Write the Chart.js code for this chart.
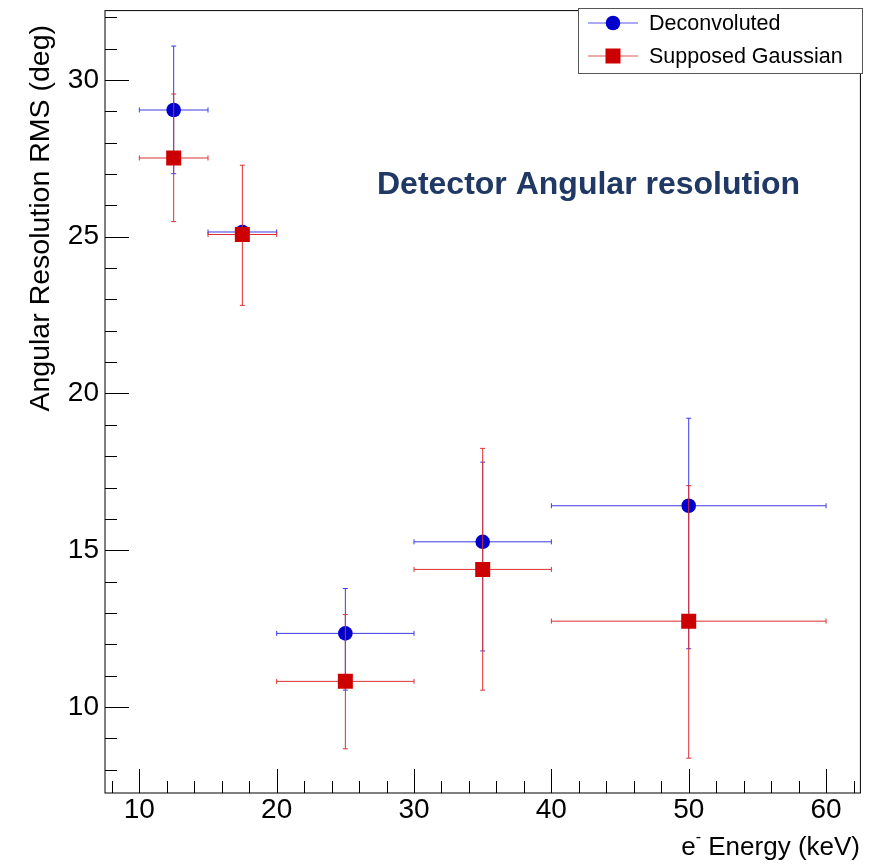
<!DOCTYPE html>
<html>
<head>
<meta charset="utf-8">
<title>Detector Angular resolution</title>
<script src="https://cdn.jsdelivr.net/npm/chart.js@4.4.1/dist/chart.umd.min.js"></script>
<style>
  html, body { margin: 0; padding: 0; background: #ffffff; }
  #wrap { width: 871px; height: 864px; }
</style>
</head>
<body>
<div id="wrap"><canvas id="plot" width="871" height="864"></canvas></div>
<script>
// Bin centres and half-widths of the electron energy bins (keV)
const energy = [12.5, 17.5, 25, 35, 50];
const energyHalfWidth = [2.5, 2.5, 5, 5, 10];

// Angular resolution RMS (deg) with asymmetric errors
const deconvoluted = [29.04, 25.15, 12.35, 15.27, 16.42];
const deconvErrUp = [2.04, 0.21, 1.43, 2.54, 2.79];
const deconvErrDown = [2.03, 0.21, 1.81, 3.48, 4.56];

const gaussian = [27.51, 25.07, 10.82, 14.39, 12.74];
const gaussErrUp = [2.04, 2.21, 2.13, 3.86, 4.32];
const gaussErrDown = [2.03, 2.26, 2.15, 3.85, 4.37];

// Axis ticks
const xTickValues = [10, 20, 30, 40, 50, 60];
const yTickValues = [10, 15, 20, 25, 30];
const xMinorStep = 2;
const yMinorStep = 1;

const seriesNames = ['Deconvoluted', 'Supposed Gaussian'];
const plotTitle = 'Detector Angular resolution';
const yTitle = 'Angular Resolution RMS (deg)';

const BLUE = '#0000cc';
const RED = '#cc0000';
const FONT = "'Liberation Sans', Arial, Helvetica, sans-serif";

Chart.defaults.font.family = FONT;
Chart.defaults.color = '#000';

function toPoints(ys) {
  return energy.map((x, i) => ({ x: x, y: ys[i] }));
}

// Draws the error crosses of one series and the frame, ticks, legend, titles
const rootStyle = {
  id: 'rootStyle',
  beforeDatasetDraw(chart, args) {
    const ds = chart.data.datasets[args.index];
    const xs = chart.scales.x, ys = chart.scales.y;
    const ctx = chart.ctx;
    const cap = 2.5;
    ctx.save();
    ctx.strokeStyle = ds.errColor;
    ctx.lineWidth = 1;
    ds.data.forEach((p, j) => {
      const px = xs.getPixelForValue(p.x);
      const py = ys.getPixelForValue(p.y);
      const yTop = ys.getPixelForValue(p.y + ds.errUp[j]);
      const yBot = ys.getPixelForValue(p.y - ds.errDown[j]);
      const xL = xs.getPixelForValue(p.x - energyHalfWidth[j]);
      const xR = xs.getPixelForValue(p.x + energyHalfWidth[j]);
      ctx.beginPath();
      ctx.moveTo(px, yTop); ctx.lineTo(px, yBot);
      ctx.moveTo(xL, py); ctx.lineTo(xR, py);
      ctx.moveTo(px - cap, yTop); ctx.lineTo(px + cap, yTop);
      ctx.moveTo(px - cap, yBot); ctx.lineTo(px + cap, yBot);
      ctx.moveTo(xL, py - cap); ctx.lineTo(xL, py + cap);
      ctx.moveTo(xR, py - cap); ctx.lineTo(xR, py + cap);
      ctx.stroke();
    });
    ctx.restore();
  },
  afterDatasetsDraw(chart) {
    const ctx = chart.ctx;
    const a = chart.chartArea;
    const xs = chart.scales.x, ys = chart.scales.y;
    ctx.save();

    // frame
    ctx.strokeStyle = '#000';
    ctx.lineWidth = 1;
    ctx.strokeRect(a.left, a.top, a.right - a.left, a.bottom - a.top);

    // ticks pointing into the frame
    const majorLen = 24, minorLen = 12;
    ctx.beginPath();
    for (let v = Math.ceil(xs.min / xMinorStep) * xMinorStep; v <= xs.max + 1e-9; v += xMinorStep) {
      const px = Math.round(xs.getPixelForValue(v)) + 0.5;
      const len = xTickValues.includes(v) ? majorLen : minorLen;
      ctx.moveTo(px, a.bottom); ctx.lineTo(px, a.bottom - len);
    }
    for (let v = Math.ceil(ys.min / yMinorStep) * yMinorStep; v <= ys.max + 1e-9; v += yMinorStep) {
      const py = Math.round(ys.getPixelForValue(v)) + 0.5;
      const len = yTickValues.includes(v) ? majorLen : minorLen;
      ctx.moveTo(a.left, py); ctx.lineTo(a.left + len, py);
    }
    ctx.stroke();

    // plot label
    ctx.fillStyle = '#1f3864';
    ctx.font = 'bold 32px ' + FONT;
    ctx.textAlign = 'left';
    ctx.textBaseline = 'middle';
    ctx.fillText(plotTitle, 377, 185);

    // legend box
    const lx = 578, ly = 8, lw = 284, lh = 65;
    ctx.fillStyle = '#fff';
    ctx.fillRect(lx, ly, lw, lh);
    ctx.strokeStyle = '#555';
    ctx.strokeRect(lx + 0.5, ly + 0.5, lw, lh);
    const rows = [
      { name: seriesNames[0], y: 23, color: BLUE, line: '#5555ee', style: 'circle', r: 7.3 },
      { name: seriesNames[1], y: 56, color: RED, line: '#dd5555', style: 'rect', r: 10.6 }
    ];
    ctx.font = '21.5px ' + FONT;
    rows.forEach(row => {
      ctx.strokeStyle = row.line;
      ctx.lineWidth = 1;
      ctx.beginPath();
      ctx.moveTo(588, row.y); ctx.lineTo(638, row.y);
      ctx.stroke();
      ctx.fillStyle = row.color;
      Chart.helpers.drawPoint(ctx, { pointStyle: row.style, radius: row.r, borderWidth: 0 }, 613, row.y);
      ctx.fillStyle = '#000';
      ctx.textAlign = 'left';
      ctx.textBaseline = 'middle';
      ctx.fillText(row.name, 649, row.y + 1);
    });

    // y axis title, aligned to the top end of the axis
    ctx.save();
    ctx.translate(41, 25);
    ctx.rotate(-Math.PI / 2);
    ctx.fillStyle = '#000';
    ctx.font = '28.5px ' + FONT;
    ctx.textAlign = 'right';
    ctx.textBaseline = 'middle';
    ctx.fillText(yTitle, 0, 0);
    ctx.restore();

    // x axis title with superscript minus, aligned to the right end
    const big = '26px ' + FONT, small = '16px ' + FONT;
    const partE = 'e', partSup = '-', partRest = ' Energy (keV)';
    ctx.font = big;
    const wE = ctx.measureText(partE).width;
    const wRest = ctx.measureText(partRest).width;
    ctx.font = small;
    const wSup = ctx.measureText(partSup).width;
    let x0 = 860 - (wE + wSup + wRest);
    const base = 855;
    ctx.fillStyle = '#000';
    ctx.textAlign = 'left';
    ctx.textBaseline = 'alphabetic';
    ctx.font = big;
    ctx.fillText(partE, x0, base);
    ctx.font = small;
    ctx.fillText(partSup, x0 + wE, base - 13);
    ctx.font = big;
    ctx.fillText(partRest, x0 + wE + wSup, base);

    ctx.restore();
  }
};

function fixScaleBox(size, horizontal) {
  return s => {
    if (horizontal) { s.height = size; } else { s.width = size; }
    s.paddingTop = 0; s.paddingBottom = 0;
    s.paddingLeft = 0; s.paddingRight = 0;
  };
}

new Chart(document.getElementById('plot'), {
  type: 'scatter',
  data: {
    datasets: [
      {
        label: seriesNames[0],
        data: toPoints(deconvoluted),
        errUp: deconvErrUp,
        errDown: deconvErrDown,
        errColor: '#3b3be6',
        pointStyle: 'circle',
        pointRadius: 7.3,
        pointHoverRadius: 7.3,
        pointBorderWidth: 0,
        backgroundColor: BLUE,
        borderColor: BLUE,
        order: 1
      },
      {
        label: seriesNames[1],
        data: toPoints(gaussian),
        errUp: gaussErrUp,
        errDown: gaussErrDown,
        errColor: '#dd3030',
        pointStyle: 'rect',
        pointRadius: 10.6,
        pointHoverRadius: 10.6,
        pointBorderWidth: 0,
        backgroundColor: RED,
        borderColor: RED,
        order: 0
      }
    ]
  },
  options: {
    responsive: false,
    animation: false,
    devicePixelRatio: 1,
    layout: { padding: { top: 8, right: 8, left: 0, bottom: 0 } },
    plugins: {
      legend: { display: false },
      tooltip: { enabled: false }
    },
    scales: {
      x: {
        type: 'linear',
        min: 7.5,
        max: 62.5,
        grid: { display: false, drawTicks: false },
        border: { display: false },
        ticks: { padding: 0, font: { size: 28 }, color: '#000', maxRotation: 0 },
        afterBuildTicks: s => { s.ticks = xTickValues.map(v => ({ value: v })); },
        afterFit: fixScaleBox(71, true)
      },
      y: {
        type: 'linear',
        min: 7.26,
        max: 32.21,
        grid: { display: false, drawTicks: false },
        border: { display: false },
        ticks: { padding: 6, font: { size: 28 }, color: '#000' },
        afterBuildTicks: s => { s.ticks = yTickValues.map(v => ({ value: v })); },
        afterFit: fixScaleBox(105, false)
      }
    }
  },
  plugins: [rootStyle]
});
</script>
</body>
</html>
